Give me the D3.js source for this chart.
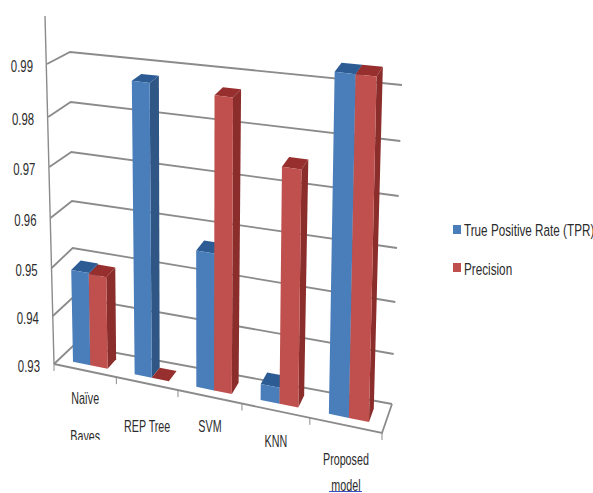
<!DOCTYPE html>
<html lang="en">
<head>
<meta charset="utf-8"/>
<style>
  html, body { margin: 0; padding: 0; background: #fff; }
  text { font-family: "Liberation Sans", sans-serif; fill: #2b2b2b; }
</style>
</head>
<body>
<svg id="chart" width="593" height="493"></svg>
<script src="https://d3js.org/d3.v7.min.js"></script>
<script>
// data
let categories = ["Naïve Bayes", "REP Tree", "SVM", "KNN", "Proposed model"]
let tpr = [0.949, 0.988, 0.9572, 0.9332, 0.994]
let precision = [0.9488, 0.93, 0.9872, 0.9757, 0.994]
let tickValues = [0.93, 0.94, 0.95, 0.96, 0.97, 0.98, 0.99]
let seriesNames = ["True Positive Rate (TPR)", "Precision"]

let width = 593
let height = 493
let svg = d3.select("#chart")

// the 3d box is drawn as four slightly converging vertical edges, one scale each
let yFrontLeft = d3.scaleLinear().domain(tickValues).range([364, 316, 268, 218, 167, 117, 64])
let yBackLeft = d3.scaleLinear().domain(tickValues).range([345, 297, 248, 201, 152, 102, 52])
let yBackRight = d3.scaleLinear().domain(tickValues).range([404, 354, 302, 248, 196, 141, 85])
let yFrontRight = d3.scaleLinear().domain(tickValues).range([433, 382, 329, 274, 221, 164, 107])
let xFrontLeft = d3.scaleLinear().domain([0.93, 0.99]).range([54, 47])
let xBackLeft = d3.scaleLinear().domain([0.93, 0.99]).range([74, 70])
let xBackRight = d3.scaleLinear().domain([0.93, 0.99]).range([392, 402])
let xFrontRight = d3.scaleLinear().domain([0.93, 0.99]).range([382, 389])

// category band on the floor, the warp is the foreshortening of the picture
let band = d3.scaleBand().domain(d3.range(categories.length)).range([0, 5]).paddingInner(0.44).paddingOuter(0.22)
let warp = d3.scaleLinear().domain([0, 1, 2, 3, 4, 5]).range([0, 0.19, 0.378, 0.573, 0.78, 1])

let depthFront = 0.27
let depthBack = 0.73

function project(u, d, v) {
	let xf = xFrontLeft(v) + (xFrontRight(v) - xFrontLeft(v)) * u
	let xb = xBackLeft(v) + (xBackRight(v) - xBackLeft(v)) * u
	let yf = yFrontLeft(v) + (yFrontRight(v) - yFrontLeft(v)) * u
	let yb = yBackLeft(v) + (yBackRight(v) - yBackLeft(v)) * u
	return [xf + (xb - xf) * d, yf + (yb - yf) * d]
}

let line = d3.line()

// walls
let walls = svg.append("g").attr("fill", "none").attr("stroke", "#8b8b8b").attr("stroke-width", 1.8)
tickValues.forEach(v => {
	walls.append("path").attr("d", line([project(0, 0, v), project(0, 1, v), project(1, 1, v)]))
})
walls.append("path").attr("d", line([project(0, 0, 0.93), [45, 16]])).attr("stroke-width", 1.4)
walls.append("path").attr("d", line([project(0, 0, 0.93), project(1, 0, 0.93), project(1, 1, 0.93)]))

// ticks under the floor
d3.range(categories.length + 1).forEach(i => {
	let p = project(warp(i), 0, 0.93)
	walls.append("path").attr("stroke-width", 1).attr("d", line([p, [p[0], p[1] + 7]]))
})

// bars
function drawBar(u0, u1, v, c) {
	let d0 = depthFront, d1 = depthBack, base = 0.93
	let g = svg.append("g")
	g.append("path").attr("fill", c.side).attr("d", line([
		project(u1, d0, base), project(u1, d1, base), project(u1, d1, v), project(u1, d0, v)]) + "Z")
	g.append("path").attr("fill", c.top).attr("d", line([
		project(u0, d0, v), project(u0, d1, v), project(u1, d1, v), project(u1, d0, v)]) + "Z")
	if (v > base) {
		g.append("path").attr("fill", c.front).attr("d", line([
			project(u0, d0, base), project(u1, d0, base), project(u1, d0, v), project(u0, d0, v)]) + "Z")
	}
}

let blue = { front: "#4a7ebb", side: "#2f5685", top: "#2d5c94" }
let red = { front: "#c0504d", side: "#8a2d2b", top: "#962f2d" }

categories.forEach((name, i) => {
	let a = band(i)
	let w = band.bandwidth() / 2
	drawBar(warp(a), warp(a + w), tpr[i], blue)
	drawBar(warp(a + w), warp(a + 2 * w), precision[i], red)
})

// the reference text is squeezed sideways, no narrow font here so scale it
function squeezed(parent, x, y, size, sx, anchor, t) {
	return parent.append("text")
		.attr("transform", "translate(" + x + "," + y + ") scale(" + sx + ",1)")
		.attr("text-anchor", anchor)
		.attr("dominant-baseline", "central")
		.attr("font-size", size)
		.text(t)
}

// value labels
let valueLabels = svg.append("g")
tickValues.forEach(d => {
	squeezed(valueLabels, xFrontLeft(d) - 14, yFrontLeft(d) + 2, 17, 0.67, "end", d3.format(".2f")(d))
})

// category labels, excel wrapped and cut these, hence the lines per label
let labelLines = [["Naïve", "Bayes"], ["REP Tree"], ["SVM"], ["KNN"], ["Proposed", "model"]]
let labelDrop = [28, 43, 30, 31, 34]

svg.append("clipPath").attr("id", "labelClip").append("rect")
	.attr("x", 0).attr("y", 0).attr("width", width).attr("height", 440)

labelLines.forEach((lines, i) => {
	let u = warp(band(i) + band.bandwidth() / 2)
	let p = project(u, 0, 0.93)
	let g = svg.append("g")
	if (i == 0) g.attr("clip-path", "url(#labelClip)")
	lines.forEach((t, k) => {
		squeezed(g, p[0], p[1] + labelDrop[i] + k * (i == 0 ? 38 : 26), 16, 0.67, "middle", t)
	})
})

// spell check underline below "model" in the source picture
svg.append("rect")
	.attr("x", 329).attr("y", 491).attr("width", 33).attr("height", 1)
	.attr("fill", "#3a4fc8")

// legend
let legend = svg.append("g")
seriesNames.forEach((name, i) => {
	legend.append("rect")
		.attr("x", 453).attr("y", i == 0 ? 225 : 263)
		.attr("width", 8).attr("height", 9)
		.attr("fill", i == 0 ? blue.front : red.front)
	squeezed(legend, 464, i == 0 ? 230 : 269, 16.5, 0.71, "start", name)
})
</script>
</body>
</html>
